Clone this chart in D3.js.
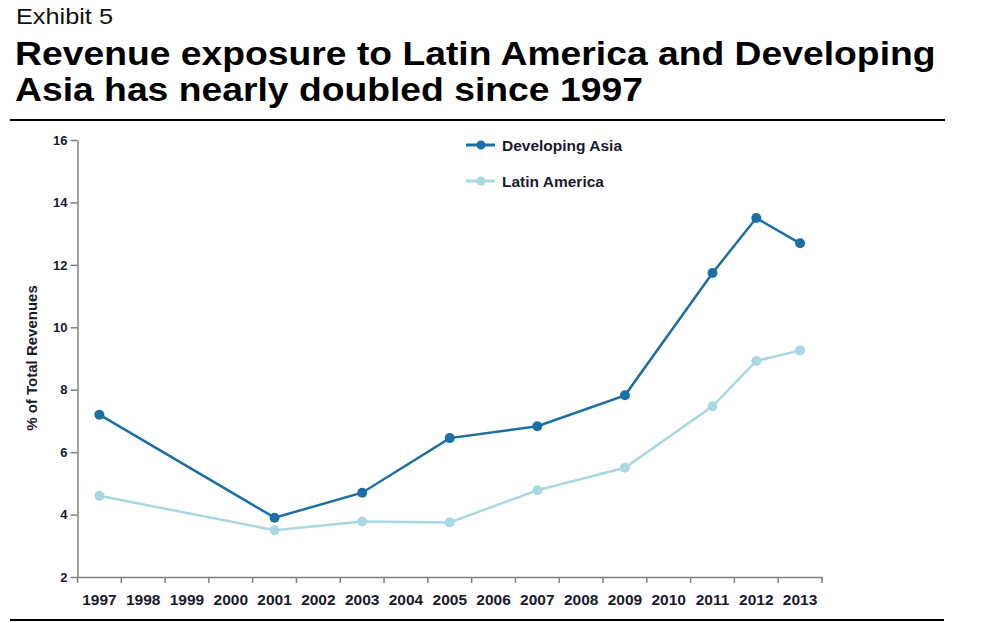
<!DOCTYPE html>
<html>
<head>
<meta charset="utf-8">
<script src="https://cdn.jsdelivr.net/npm/d3@7"></script>
<style>
  html, body { margin: 0; padding: 0; background: #fff; }
  svg { display: block; font-family: "Liberation Sans", Arial, sans-serif; }
</style>
</head>
<body>
<svg id="chart" width="992" height="623"></svg>
<script>
const years = ["1997","1998","1999","2000","2001","2002","2003","2004","2005","2006","2007","2008","2009","2010","2011","2012","2013"];
const yTicks = [2, 4, 6, 8, 10, 12, 14, 16];
const seriesNames = ["Developing Asia", "Latin America"];
const asiaYears = ["1997","2001","2003","2005","2007","2009","2011","2012","2013"];
const asiaValues = [7.2, 3.9, 4.7, 6.45, 6.83, 7.82, 11.74, 13.5, 12.69];
const latamYears = ["1997","2001","2003","2005","2007","2009","2011","2012","2013"];
const latamValues = [4.6, 3.5, 3.78, 3.75, 4.78, 5.5, 7.47, 8.92, 9.26];
const colors = ["#1c6fa4", "#a9d8e5"];

const svg = d3.select("#chart");

// Header
svg.append("text").attr("transform", "translate(16,24) scale(1.15,1)")
  .attr("font-size", 22).attr("fill", "#111").text("Exhibit 5");
const title = svg.append("g").attr("transform", "translate(15,0) scale(1.13,1)");
title.append("text").attr("x", 0).attr("y", 65)
  .attr("font-size", 33).attr("font-weight", "bold").attr("fill", "#000")
  .text("Revenue exposure to Latin America and Developing");
title.append("text").attr("x", 0).attr("y", 101)
  .attr("font-size", 33).attr("font-weight", "bold").attr("fill", "#000")
  .text("Asia has nearly doubled since 1997");
svg.append("line").attr("x1", 10).attr("x2", 945).attr("y1", 120).attr("y2", 120)
  .attr("stroke", "#000").attr("stroke-width", 2);
svg.append("line").attr("x1", 10).attr("x2", 944).attr("y1", 620).attr("y2", 620)
  .attr("stroke", "#000").attr("stroke-width", 2);

// Scales
const x = d3.scaleBand().domain(years).range([77.5, 822]);
const y = d3.scaleLinear().domain([2, 16]).range([577, 140]);
const cx = d => x(d) + x.bandwidth() / 2;

// Y axis
const yAxis = svg.append("g").attr("transform", "translate(77.5,0)")
  .call(d3.axisLeft(y).tickValues(yTicks).tickSize(7).tickPadding(3).tickSizeOuter(0));
yAxis.select(".domain").attr("stroke", "#808080").attr("stroke-width", 1.5);
yAxis.selectAll(".tick line").attr("stroke", "#808080").attr("stroke-width", 1.5);
yAxis.selectAll(".tick text").attr("font-size", 13).attr("font-weight", "bold")
  .attr("fill", "#1a1a2e").attr("font-family", "Liberation Sans, Arial, sans-serif");

// X axis
const xAxis = svg.append("g").attr("transform", "translate(0,577)")
  .call(d3.axisBottom(x).tickSize(0).tickPadding(17).tickSizeOuter(0));
xAxis.select(".domain").attr("stroke", "#808080").attr("stroke-width", 1.5);
xAxis.selectAll(".tick text").attr("font-size", 15.5).attr("font-weight", "bold")
  .attr("fill", "#1a1a2e").attr("font-family", "Liberation Sans, Arial, sans-serif");
const tickPos = years.map(d => x(d)).concat([x.range()[1]]);
svg.append("g").selectAll("line").data(tickPos).join("line")
  .attr("x1", d => d).attr("x2", d => d).attr("y1", 577).attr("y2", 583)
  .attr("stroke", "#808080").attr("stroke-width", 1.5);

// Y axis title
svg.append("text")
  .attr("transform", "translate(37,358) rotate(-90)")
  .attr("text-anchor", "middle").attr("font-size", 15).attr("font-weight", "bold")
  .attr("fill", "#1a1a2e").text("% of Total Revenues");

// Series
const series = [
  { name: seriesNames[0], yrs: asiaYears, vals: asiaValues, color: colors[0] },
  { name: seriesNames[1], yrs: latamYears, vals: latamValues, color: colors[1] }
];
const line = d3.line().x(d => cx(d[0])).y(d => y(d[1]));
[series[1], series[0]].forEach(s => {
  const pts = s.yrs.map((yr, i) => [yr, s.vals[i]]);
  svg.append("path").datum(pts).attr("d", line)
    .attr("fill", "none").attr("stroke", s.color).attr("stroke-width", 2.5);
  svg.append("g").selectAll("circle").data(pts).join("circle")
    .attr("cx", d => cx(d[0])).attr("cy", d => y(d[1])).attr("r", 5)
    .attr("fill", s.color);
});

// Legend
const legend = svg.append("g");
series.forEach((s, i) => {
  const ly = 145 + i * 36;
  legend.append("line").attr("x1", 466).attr("x2", 495).attr("y1", ly).attr("y2", ly)
    .attr("stroke", s.color).attr("stroke-width", 3);
  legend.append("circle").attr("cx", 481).attr("cy", ly).attr("r", 4.5).attr("fill", s.color);
  legend.append("text").attr("x", 502).attr("y", ly).attr("dy", "0.36em")
    .attr("font-size", 15.5).attr("font-weight", "bold").attr("fill", "#1a1a2e")
    .text(s.name);
});
</script>
</body>
</html>
